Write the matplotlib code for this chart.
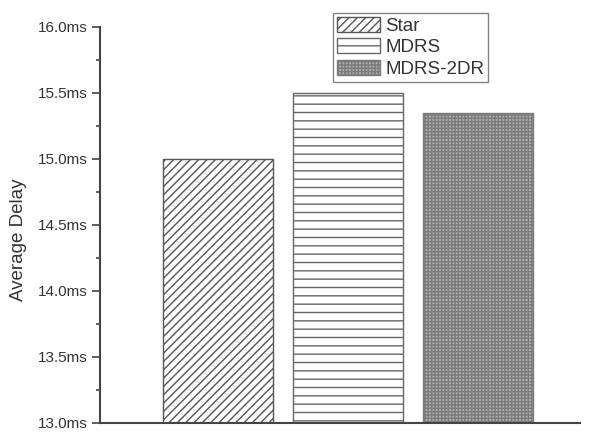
import matplotlib.pyplot as plt
from matplotlib.ticker import MultipleLocator, FuncFormatter

plt.rcParams['font.family'] = ['Liberation Sans', 'DejaVu Sans']
plt.rcParams['hatch.linewidth'] = 1.0

# data
labels = ['Star', 'MDRS', 'MDRS-2DR']
delays = [15.0, 15.5, 15.35]
hatches = ['////', '--', '+++++']
faces = ['white', 'white', '#b0b0b0']
hatch_cols = ['#555555', '#666666', '#7a7a7a']

fig = plt.figure(figsize=(5.92, 4.33), dpi=100)
ax = fig.add_axes([100/592, 1 - 423/433, 480/592, 396/433])

pos = [1, 2, 3]
for p, v, lab, h, fc, hc in zip(pos, delays, labels, hatches, faces, hatch_cols):
    b = ax.bar(p, v - 13.0, bottom=13.0, width=0.846, label=lab,
               facecolor=fc, hatch=h, edgecolor=hc, linewidth=1.0)

ax.set_ylim(13.0, 16.0)
ax.set_xlim(0.096, 3.78)
ax.yaxis.set_major_locator(MultipleLocator(0.5))
ax.yaxis.set_minor_locator(MultipleLocator(0.25))
ax.yaxis.set_major_formatter(FuncFormatter(lambda v, _: f'{v:.1f}ms'))
ax.tick_params(axis='y', which='major', length=6, width=1.2, color='#444444',
               labelsize=11, labelcolor='#333333', pad=3)
ax.tick_params(axis='y', which='minor', length=3, width=1.2, color='#444444')
ax.set_xticks([])

for s in ['top', 'right']:
    ax.spines[s].set_visible(False)
for s in ['left', 'bottom']:
    ax.spines[s].set_linewidth(1.5)
    ax.spines[s].set_color('#444444')

ax.set_ylabel('Average Delay', fontsize=13.5, color='#333333')
ax.yaxis.set_label_coords(-0.152, 0.462)

leg = ax.legend(loc='upper left', bbox_to_anchor=(333/592, 1 - 13/433),
                bbox_transform=fig.transFigure, borderaxespad=0,
                fontsize=13.5, frameon=True, fancybox=False, handlelength=2.3,
                handleheight=0.85, handletextpad=0.3, labelspacing=0.2,
                borderpad=0.2)
leg.get_frame().set_edgecolor('#666666')
leg.get_frame().set_linewidth(1.0)
for t in leg.get_texts():
    t.set_color('#333333')

fig.savefig('out.png', dpi=100)
